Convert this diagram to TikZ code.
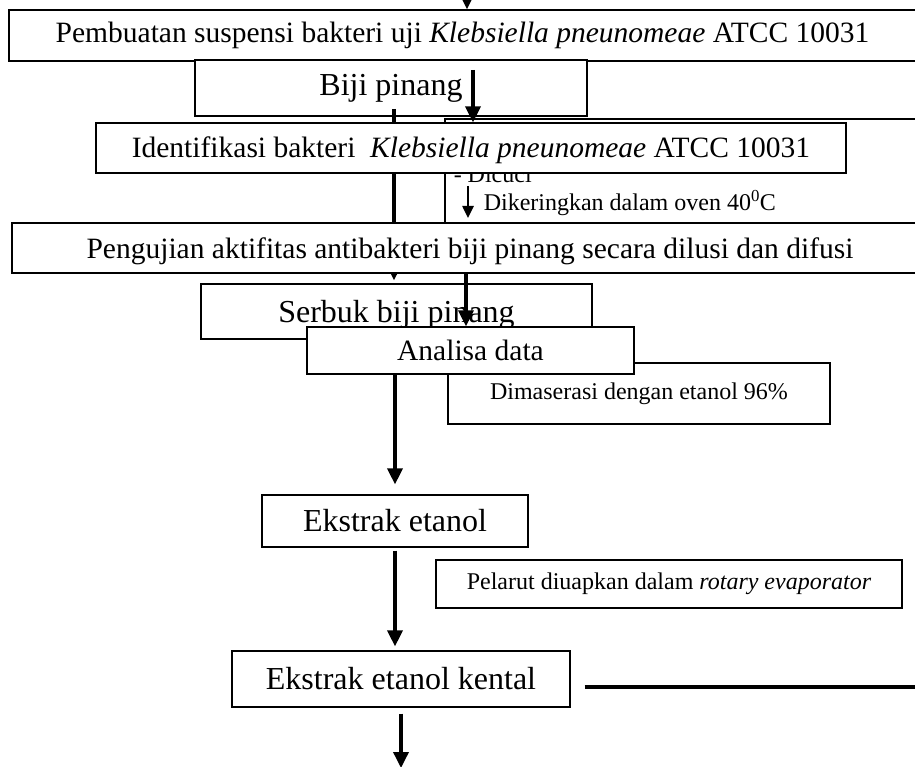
\documentclass[tikz,border=0pt]{standalone}
\usepackage{fontspec}
\setmainfont{Liberation Serif}
\usetikzlibrary{arrows.meta}

\begin{document}
\begin{tikzpicture}[x=1pt,y=-1pt,->,>={Triangle[length=16pt,width=15pt]},line width=3.5pt,
    font=\fontsize{29.5}{34}\selectfont]
\tikzstyle{box}=[draw,fill=white,line width=1.2pt,inner sep=0pt,align=center]
\tikzstyle{big}=[font=\fontsize{32}{38}\selectfont]
\tikzstyle{small}=[font=\fontsize{24}{28}\selectfont]
\tikzstyle{thin arrow}=[line width=2.5pt,>={Triangle[length=12pt,width=11pt]}]

\useasboundingbox (0,0) rectangle (915,767);

\node[box,minimum width=907pt,minimum height=51pt] (buat) at (462.5,35.5)
    {Pembuatan suspensi bakteri uji \textit{Klebsiella pneunomeae} ATCC 10031};
\coordinate (atas) at (467,-20);
\draw[thin arrow] (atas) -- (atas |- buat.north);

\node[box,big,minimum width=392pt,minimum height=56pt] (biji) at (391,88) {Biji pinang};
\node[box,big,text depth=0pt,minimum width=391pt,minimum height=55pt] (serbuk) at (396.5,311.5) {Serbuk biji pinang};

% kotak pencucian (tertutup sebagian)
\node[box,minimum width=495pt,minimum height=141pt] (cuci) at (692.5,189.5) {};
\node[small,inner sep=0pt,anchor=base west] (dicuci) at (452,183) {- Dicuci};
\node[small,inner sep=0pt,anchor=base west] (kering) at (482,211) {Dikeringkan dalam oven 40\textsuperscript{0}C};
\coordinate (k1) at (468,186);
\coordinate (k2) at (468,218);
\draw[thin arrow] (k1) -- (k2);

\coordinate (a1) at (394,109);
\draw[shorten >=3pt] (a1) -- (a1 |- serbuk.north);

\node[box,text depth=2pt,minimum width=750pt,minimum height=50pt] (ident) at (471,148)
    {Identifikasi bakteri~ \textit{Klebsiella pneunomeae} ATCC 10031};
\coordinate (a2) at (473,70);
\draw (a2) -- (a2 |- ident.north);

\node[box,small,minimum width=382pt,minimum height=61pt] (maser) at (639,393.5) {Dimaserasi dengan etanol 96\%};
\node[box,minimum width=327pt,minimum height=47pt] (analisa) at (470.5,350.5) {Analisa data};
\coordinate (a3) at (466,235);
\draw (a3) -- (a3 |- analisa.north);

\node[box,text depth=0pt,minimum width=916pt,minimum height=50pt] (uji) at (470,248)
    {Pengujian aktifitas antibakteri biji pinang secara dilusi dan difusi};

\node[box,big,minimum width=266pt,minimum height=52pt] (ekstrak) at (395,521) {Ekstrak etanol};
\draw[shorten >=10pt] (analisa.south -| ekstrak.north) -- (ekstrak.north);

\node[box,small,minimum width=466pt,minimum height=48pt] (pelarut) at (669,584)
    {Pelarut diuapkan dalam \textit{rotary evaporator}};
\node[box,big,minimum width=338pt,minimum height=56pt] (kental) at (401,679) {Ekstrak etanol kental};
\draw[shorten <=3pt,shorten >=4pt] (ekstrak.south) -- (ekstrak.south |- kental.north);

\coordinate (kiri) at ([xshift=14pt]kental.east);
\coordinate (kanan) at (920,687);
\draw[-,line width=4pt] (kiri |- kanan) -- (kanan);

\coordinate (bawah) at (404,768);
\draw[shorten <=6pt] (kental.south) -- (kental.south |- bawah);
\end{tikzpicture}
\end{document}
